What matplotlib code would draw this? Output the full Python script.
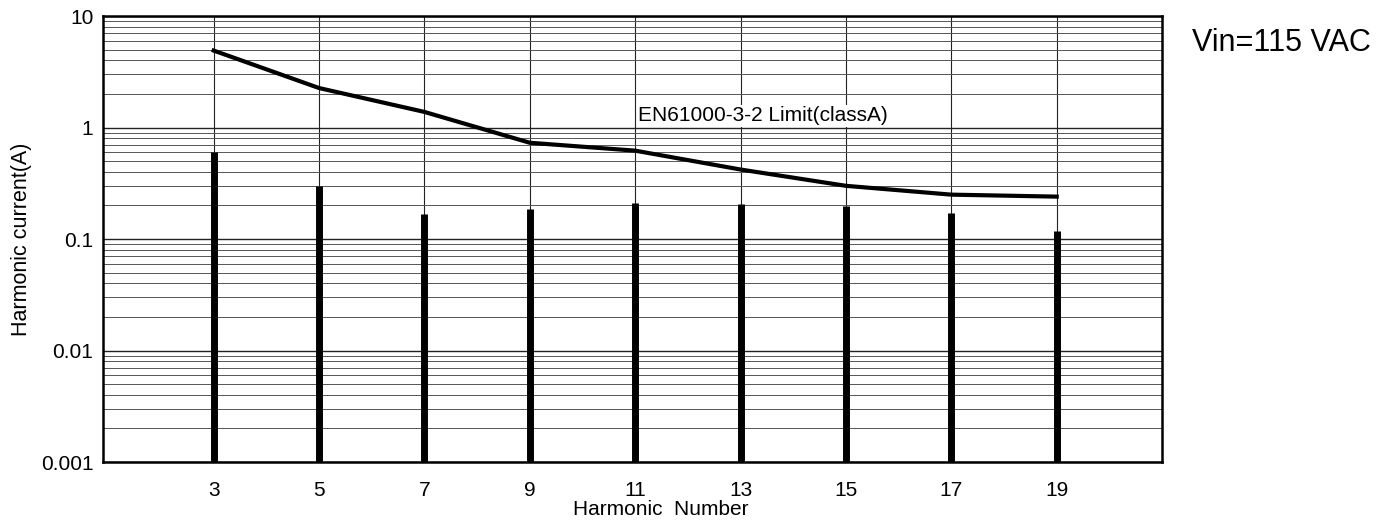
import matplotlib
matplotlib.use("Agg")
import matplotlib.pyplot as plt
from matplotlib.ticker import FixedLocator, NullFormatter, LogLocator

harmonics = [3, 5, 7, 9, 11, 13, 15, 17, 19]
measured = [0.60, 0.30, 0.167, 0.186, 0.21, 0.207, 0.198, 0.172, 0.118]
limit = [4.9, 2.26, 1.38, 0.73, 0.62, 0.42, 0.30, 0.25, 0.24]
ytick_vals = [0.001, 0.01, 0.1, 1, 10]
ytick_labels = ["0.001", "0.01", "0.1", "1", "10"]

plt.rcParams['font.family'] = ['Liberation Sans', 'DejaVu Sans']

fig = plt.figure(figsize=(13.79, 5.27), dpi=100)
ax = fig.add_axes([0.0747, 0.1233, 0.768, 0.8463])
ax.set_yscale('log')
ax.set_xlim(0.9, 21.0)
ax.set_ylim(0.001, 10)

# grid
ax.yaxis.set_major_locator(FixedLocator(ytick_vals))
ax.yaxis.set_minor_locator(LogLocator(base=10, subs=range(2, 10), numticks=20))
ax.yaxis.set_minor_formatter(NullFormatter())
ax.set_yticks(ytick_vals)
ax.set_yticklabels(ytick_labels)
ax.set_xticks(harmonics)
ax.set_xticklabels([str(h) for h in harmonics])
ax.grid(True, which='major', axis='y', color='#222222', linewidth=1.0)
ax.grid(True, which='minor', axis='y', color='#555555', linewidth=0.7)
ax.grid(True, which='major', axis='x', color='#222222', linewidth=0.8)
ax.set_axisbelow(True)

ax.tick_params(axis='both', which='both', length=0, labelsize=15)
ax.tick_params(axis='x', pad=14)
ax.tick_params(axis='y', pad=7)

for s in ax.spines.values():
    s.set_linewidth(1.8)
    s.set_color('black')

# measured harmonics as thick bars
ax.vlines(harmonics, 0.001, measured, colors='black', linewidth=5, zorder=3)

# limit line
ax.plot(harmonics, limit, color='black', linewidth=3, zorder=4)
ax.text(11.06, 1.27, "EN61000-3-2 Limit(classA)", fontsize=15, ha='left', va='center',
        bbox=dict(facecolor='white', edgecolor='none', pad=1), zorder=5)

ax.set_xlabel("Harmonic  Number", fontsize=15, labelpad=1)
ax.xaxis.set_label_coords(0.527, -0.085, transform=ax.transAxes)
ax.xaxis.label.set_va('top')
ax.set_ylabel("Harmonic current(A)", fontsize=15.5, labelpad=6)

fig.text(0.8644, 0.918, "Vin=115 VAC", fontsize=22, ha='left', va='center')

fig.savefig("out.png", dpi=100)
